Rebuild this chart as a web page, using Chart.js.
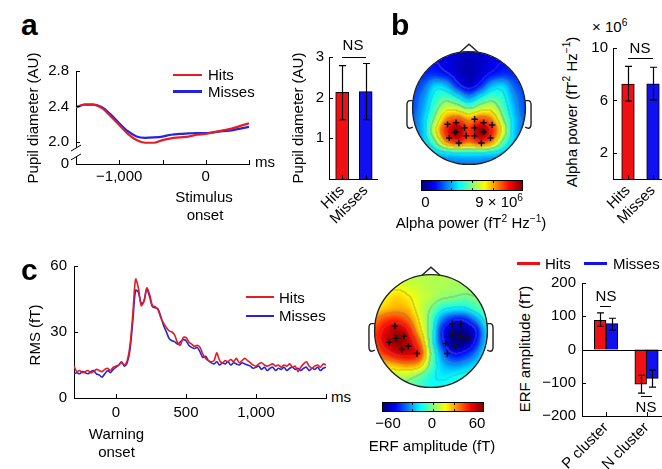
<!DOCTYPE html>
<html>
<head>
<meta charset="utf-8">
<script src="https://cdn.jsdelivr.net/npm/chart.js@4.4.1/dist/chart.umd.min.js"></script>
<style>
body { margin: 0; width: 662px; height: 469px; overflow: hidden; background: #fff; position: relative;
       font-family: 'Liberation Sans', Arial, sans-serif; }
canvas, .t, .seg, .cbar { position: absolute; }
.t { white-space: nowrap; line-height: 1; color: #000; }
.t sup { font-size: 0.68em; vertical-align: 0.6em; line-height: 0; }
.cbar { border: 1px solid #000; box-sizing: border-box; }
</style>
</head>
<body>
<script>
// ---- panel a: pupil diameter ----
const pupilTime = [-1500, -1400, -1300, -1200, -1100, -1000, -900, -800, -700, -600, -500,
                   -400, -300, -200, -100, 0, 100, 200, 300, 400, 500];
const pupilHits = [2.39, 2.42, 2.42, 2.38, 2.29, 2.19, 2.09, 2.02, 1.99, 1.99, 2.02,
                   2.04, 2.05, 2.06, 2.08, 2.09, 2.11, 2.13, 2.15, 2.18, 2.21];
const pupilMisses = [2.39, 2.42, 2.42, 2.39, 2.31, 2.21, 2.12, 2.06, 2.045, 2.05, 2.06,
                     2.08, 2.09, 2.095, 2.10, 2.10, 2.11, 2.12, 2.13, 2.15, 2.17];

const condLabels = ['Hits', 'Misses'];
const pupilBarMean = [2.13, 2.15];
const pupilBarLow = [1.46, 1.46];
const pupilBarHigh = [2.79, 2.84];

// ---- panel b: alpha power (x 10^6) ----
const alphaBarMean = [7.25, 7.27];
const alphaBarLow = [5.94, 6.02];
const alphaBarHigh = [8.6, 8.53];

// scalp map sampled on a grid, x = -1..1 (columns), y = 1..-1 (rows), units of 9 x 10^6
const alphaMap = [
  [.12, .12, .12, .10, .08, .06, .08, .10, .12, .12, .12],
  [.14, .14, .13, .10, .07, .05, .07, .10, .13, .14, .14],
  [.16, .16, .17, .14, .08, .05, .08, .14, .17, .16, .16],
  [.17, .22, .33, .30, .16, .08, .16, .30, .33, .22, .17],
  [.19, .27, .40, .44, .36, .26, .36, .44, .40, .27, .19],
  [.20, .30, .45, .58, .56, .48, .56, .58, .45, .30, .20],
  [.22, .33, .52, .74, .80, .72, .80, .74, .52, .33, .22],
  [.24, .33, .60, .86, .97, .83, .97, .86, .60, .33, .24],
  [.24, .32, .48, .74, .84, .76, .84, .74, .48, .32, .24],
  [.20, .26, .32, .36, .38, .38, .38, .36, .32, .26, .20],
  [.20, .21, .22, .23, .24, .24, .24, .23, .22, .21, .20]
];
const alphaSensX = [-0.38, -0.23, -0.08, -0.24, -0.35, -0.05, -0.18, 0.10, 0.26, 0.41, 0.10, 0.10, 0.26, 0.38, 0.22];
const alphaSensY = [-0.29, -0.26, -0.35, -0.43, -0.53, -0.49, -0.62, -0.20, -0.26, -0.30, -0.35, -0.49, -0.42, -0.53, -0.62];
const alphaPeakX = [-0.24, 0.26];
const alphaPeakY = [-0.43, -0.42];

// ---- panel c: ERF ----
const rmsTime = [];
for (let t = -300; t <= 1500; t += 20) rmsTime.push(t);
const rmsHits = [14.5, 12, 12.5, 11.5, 12, 12.5, 11.5, 12, 13, 12.5, 12, 13, 13.5, 12.5, 14, 14.5,
  15, 16, 15, 17, 24, 38, 54, 50, 42, 44, 50, 47, 42, 41.5, 40, 36.5, 34, 32, 30.5, 30, 28.5, 25, 24,
  27.5, 27.5, 25.5, 24.5, 23.5, 24, 23, 20, 18, 17, 16.5, 17, 20.5, 17, 16, 17, 16.5, 17.5, 16.5, 18,
  16, 17, 18, 17, 16, 15, 14.5, 15.5, 16, 15, 14.5, 15, 15.5, 14.5, 15, 14, 15, 14.5, 15.5, 14, 14.5,
  12, 14, 15.5, 16.5, 14.5, 13.5, 14.5, 15, 14, 15.5, 15];
const rmsMisses = [11, 11.5, 11, 12, 11.5, 11, 12, 12.5, 11, 10.5, 9.5, 11, 12.5, 11.5, 13, 14,
  15, 16.5, 14.5, 16, 22, 35, 49, 48, 43, 44, 49.5, 46, 41.5, 41, 40.5, 37, 33, 30, 27, 26, 25.5, 24.5,
  25.5, 26.5, 26, 24, 23, 22.5, 23, 21, 18.5, 19, 17, 16, 15.5, 16.5, 15, 16, 15.5, 16.5, 15, 16, 15.5,
  15, 16, 15.5, 15, 14.5, 13.5, 14, 14.5, 13, 14, 12.5, 13.5, 14, 12.5, 13.5, 13, 14, 12.5, 13.5, 14,
  13, 13.5, 12.5, 13.5, 14, 12.5, 13.5, 13, 14, 12.5, 13.5, 14];

const clusterLabels = ['P cluster', 'N cluster'];
const erfHitsMean = [88, -104];
const erfHitsLow = [70, -131];
const erfHitsHigh = [110, -78];
const erfMissesMean = [78, -87];
const erfMissesLow = [58, -113];
const erfMissesHigh = [94, -62];

// scalp map in fT, same grid layout as alphaMap
const erfMap = [
  [5, 5, 6, 6, 6, 6, 6, 5, 5, 5, 5],
  [8, 10, 12, 10, 8, 6, 5, 4, 4, 4, 4],
  [12, 16, 20, 16, 10, 6, 2, 0, -2, 0, 2],
  [18, 22, 25, 22, 10, 0, -12, -16, -16, -8, -2],
  [30, 38, 40, 32, 14, -5, -30, -42, -42, -28, -10],
  [38, 48, 55, 45, 20, -6, -42, -58, -58, -45, -18],
  [38, 50, 58, 52, 32, -6, -40, -58, -58, -42, -18],
  [30, 40, 48, 50, 40, 0, -30, -45, -42, -30, -12],
  [15, 20, 25, 28, 22, -4, -22, -28, -25, -18, -10],
  [5, 6, 6, 5, -2, -12, -17, -15, -12, -9, -7],
  [0, 0, -2, -4, -8, -13, -13, -11, -9, -7, -5]
];
const erfSensX = [-0.64, -0.74, -0.62, -0.48, -0.40, -0.52, -0.25, 0.38, 0.53, 0.38, 0.52, 0.65, 0.26, 0.43, 0.29];
const erfSensY = [0.09, -0.2, -0.13, -0.09, -0.27, -0.33, -0.40, 0.13, 0.13, -0.05, -0.09, -0.13, -0.22, -0.27, -0.40];

const RED = 'rgb(240,16,20)';
const BLUE = 'rgb(16,16,240)';
const LRED = 'rgb(228,28,36)';
const LBLUE = 'rgb(34,34,226)';

Chart.defaults.font.family = "'Liberation Sans', Arial, sans-serif";
Chart.defaults.font.size = 15;
Chart.defaults.color = '#000';
Chart.defaults.animation = false;
Chart.defaults.plugins.legend.display = false;
Chart.defaults.plugins.tooltip.enabled = false;

// inward tick marks (matlab style), zero line and axis break
Chart.register({
  id: 'inTicks',
  afterDraw(chart, args, o) {
    const ctx = chart.ctx, a = chart.chartArea, len = o.len || 4;
    ctx.save();
    ctx.strokeStyle = '#000';
    ctx.lineWidth = 1;
    (o.x || []).forEach(v => {
      const px = Math.round(chart.scales.x.getPixelForValue(v)) + 0.5;
      ctx.beginPath(); ctx.moveTo(px, a.bottom); ctx.lineTo(px, a.bottom - len); ctx.stroke();
    });
    (o.y || []).forEach(v => {
      const py = Math.round(chart.scales.y.getPixelForValue(v)) + 0.5;
      ctx.beginPath(); ctx.moveTo(a.left, py); ctx.lineTo(a.left + len, py); ctx.stroke();
    });
    if (o.zero) {
      const py = Math.round(chart.scales.y.getPixelForValue(0)) + 0.5;
      ctx.beginPath(); ctx.moveTo(a.left, py); ctx.lineTo(a.right, py); ctx.stroke();
    }
    if (o.brk) {
      const y1 = chart.scales.y.getPixelForValue(o.brk[1]), y2 = chart.scales.y.getPixelForValue(o.brk[0]);
      ctx.fillStyle = '#fff';
      ctx.fillRect(a.left - 2, y1, 4, y2 - y1);
      [y1, y2].forEach(y => {
        ctx.beginPath(); ctx.moveTo(a.left - 5, y + 3); ctx.lineTo(a.left + 5, y - 3); ctx.stroke();
      });
    }
    ctx.restore();
  }
});

// error bars from dataset.errLow / errHigh
Chart.register({
  id: 'errBars',
  afterDatasetsDraw(chart) {
    const ctx = chart.ctx, ys = chart.scales.y;
    ctx.save();
    ctx.strokeStyle = '#000';
    ctx.lineWidth = 1.2;
    chart.data.datasets.forEach((ds, i) => {
      if (!ds.errLow) return;
      chart.getDatasetMeta(i).data.forEach((bar, j) => {
        const x = Math.round(bar.x) + 0.5;
        const y1 = ys.getPixelForValue(ds.errLow[j]), y2 = ys.getPixelForValue(ds.errHigh[j]);
        ctx.beginPath();
        ctx.moveTo(x, y1); ctx.lineTo(x, y2);
        ctx.moveTo(x - 3.5, y1); ctx.lineTo(x + 3.5, y1);
        ctx.moveTo(x - 3.5, y2); ctx.lineTo(x + 3.5, y2);
        ctx.stroke();
      });
    });
    ctx.restore();
  }
});

function jet(t) {
  t = Math.max(0, Math.min(1, t));
  const f = v => Math.round(255 * Math.max(0, Math.min(1, v)));
  return [f(1.5 - Math.abs(4 * t - 3)), f(1.5 - Math.abs(4 * t - 2)), f(1.5 - Math.abs(4 * t - 1))];
}

// smooth (catmull-rom) reading of a map grid at head coords x, y
function mapValue(grid, x, y) {
  const nr = grid.length - 1, nc = grid[0].length - 1;
  const gx = (x + 1) / 2 * nc, gy = (1 - y) / 2 * nr;
  const ix = Math.floor(gx), iy = Math.floor(gy), fx = gx - ix, fy = gy - iy;
  const at = (r, c) => grid[Math.max(0, Math.min(nr, r))][Math.max(0, Math.min(nc, c))];
  const cr = (p0, p1, p2, p3, t) => p1 + 0.5 * t * (p2 - p0 + t * (2 * p0 - 5 * p1 + 4 * p2 - p3 + t * (3 * (p1 - p2) + p3 - p0)));
  const rows = [-1, 0, 1, 2].map(d => cr(at(iy + d, ix - 1), at(iy + d, ix), at(iy + d, ix + 1), at(iy + d, ix + 2), fx));
  return cr(rows[0], rows[1], rows[2], rows[3], fy);
}
const alphaAt = (x, y) => mapValue(alphaMap, x, y);
const erfAt = (x, y) => (mapValue(erfMap, x, y) + 60) / 120;

// head map drawn into the chart area, through the chart scales
function topoPlugin(valueAt, levels) {
  return {
    id: 'topo',
    beforeDatasetsDraw(chart) {
      const ctx = chart.ctx, a = chart.chartArea, xs = chart.scales.x, ys = chart.scales.y;
      const w = Math.round(a.right - a.left), h = Math.round(a.bottom - a.top);
      const off = document.createElement('canvas');
      off.width = w; off.height = h;
      const octx = off.getContext('2d');
      const img = octx.createImageData(w, h);
      const lev = new Int16Array(w * h).fill(-1);
      const tv = new Float32Array(w * h);
      for (let j = 0; j < h; j++) {
        for (let i = 0; i < w; i++) {
          const x = xs.getValueForPixel(a.left + i + 0.5), y = ys.getValueForPixel(a.top + j + 0.5);
          if (x * x + y * y > 1) continue;
          const t = valueAt(x, y);
          tv[j * w + i] = t;
          lev[j * w + i] = Math.floor(Math.max(0, Math.min(0.999, t)) * levels);
        }
      }
      for (let j = 0; j < h; j++) {
        for (let i = 0; i < w; i++) {
          const k = j * w + i;
          if (lev[k] < 0) continue;
          let [r, g, b] = jet(tv[k]);
          const right = i + 1 < w ? lev[k + 1] : -1, down = j + 1 < h ? lev[k + w] : -1;
          if ((right >= 0 && right !== lev[k]) || (down >= 0 && down !== lev[k])) {
            r = r * 0.5 + 60; g = g * 0.5 + 60; b = b * 0.5 + 60;
          }
          img.data[k * 4] = r; img.data[k * 4 + 1] = g; img.data[k * 4 + 2] = b; img.data[k * 4 + 3] = 255;
        }
      }
      octx.putImageData(img, 0, 0);
      ctx.drawImage(off, a.left, a.top);

      const px = v => xs.getPixelForValue(v), py = v => ys.getPixelForValue(v);
      const cx = px(0), cy = py(0), r = px(1) - cx;
      ctx.save();
      ctx.strokeStyle = '#222';
      ctx.lineWidth = 1.4;
      ctx.beginPath(); ctx.arc(cx, cy, r, 0, Math.PI * 2); ctx.stroke();
      ctx.beginPath();
      ctx.moveTo(px(-0.16), py(0.987)); ctx.lineTo(px(0), py(1.13)); ctx.lineTo(px(0.16), py(0.987));
      ctx.stroke();
      [-1, 1].forEach(s => {
        ctx.beginPath();
        ctx.moveTo(px(s * 0.995), py(0.13));
        ctx.lineTo(px(s * 1.05), py(0.13));
        ctx.quadraticCurveTo(px(s * 1.1), py(0.13), px(s * 1.1), py(0.05));
        ctx.lineTo(px(s * 1.1), py(-0.28));
        ctx.quadraticCurveTo(px(s * 1.1), py(-0.36), px(s * 1.05), py(-0.36));
        ctx.lineTo(px(s * 0.995), py(-0.34));
        ctx.stroke();
      });
      ctx.restore();
    }
  };
}

function boxChart(area, pad, config) {
  const [l, t, r, b] = area;
  const c = document.createElement('canvas');
  const w = r - l + pad[0] + pad[2], h = b - t + pad[1] + pad[3];
  c.width = w; c.height = h;
  Object.assign(c.style, { left: (l - pad[0]) + 'px', top: (t - pad[1]) + 'px', width: w + 'px', height: h + 'px' });
  document.body.appendChild(c);
  const o = config.options;
  o.responsive = false;
  o.layout = { padding: { left: 0, top: pad[1], right: pad[2], bottom: 0 } };
  o.scales.x.afterFit = s => { s.height = pad[3]; s.paddingLeft = 0; s.paddingRight = 0; };
  o.scales.y.afterFit = s => { s.width = pad[0]; s.paddingTop = 0; s.paddingBottom = 0; };
  return new Chart(c, config);
}

function axis(min, max, ticks, fmt, padding, extra) {
  return Object.assign({
    type: 'linear', min, max, offset: false,
    grid: { display: false, drawTicks: false, offset: false },
    border: { display: true, color: '#000', width: 1 },
    afterBuildTicks: s => { s.ticks = ticks.map(v => ({ value: v })); },
    ticks: { padding, autoSkip: false, maxRotation: 0, callback: fmt }
  }, extra || {});
}
const minus = v => (v < 0 ? '\u2212' : '') + Math.abs(v).toLocaleString('en-US');

// a: pupil time course
boxChart([76, 71, 249, 164], [60, 8, 4, 25], {
  type: 'line',
  data: {
    datasets: [
      { data: pupilTime.map((t, i) => ({ x: t, y: pupilHits[i] })), borderColor: LRED },
      { data: pupilTime.map((t, i) => ({ x: t, y: pupilMisses[i] })), borderColor: LBLUE }
    ]
  },
  options: {
    elements: { point: { radius: 0 }, line: { borderWidth: 2.2, cubicInterpolationMode: 'monotone' } },
    scales: {
      x: axis(-1500, 500, [-1000, 0], v => minus(v), 4),
      y: axis(1.75, 2.8, [1.75, 2.0, 2.4, 2.8], v => v === 1.75 ? '0' : v.toFixed(1), 7)
    },
    plugins: { inTicks: { x: [-1000, -500, 0, 500], y: [2.0, 2.4, 2.8], brk: [1.83, 1.93] } }
  }
});

function barConfig(datasets, xMin, xMax, labels, y, yTicks, zero) {
  return {
    type: 'bar',
    data: { datasets },
    options: {
      scales: {
        x: axis(xMin, xMax, [0, 1], v => labels[v], 3,
          { ticks: { padding: 3, autoSkip: false, minRotation: 45, maxRotation: 45, callback: v => labels[v] } }),
        y: y
      },
      plugins: { inTicks: { x: [0, 1], y: yTicks, zero } }
    }
  };
}

// a: pupil bars
boxChart([329, 57, 377, 179], [30, 6, 6, 48], barConfig([{
  data: pupilBarMean.map((v, i) => ({ x: i, y: v })),
  backgroundColor: [RED, BLUE], borderColor: '#000', borderWidth: 1, barThickness: 13,
  errLow: pupilBarLow, errHigh: pupilBarHigh
}], -0.56, 1.48, condLabels, axis(0, 3, [1, 2, 3], v => String(v), 5), [1, 2, 3]));

// b: alpha bars
boxChart([613, 48, 666, 179], [30, 6, 0, 45], barConfig([{
  data: alphaBarMean.map((v, i) => ({ x: i, y: v })),
  backgroundColor: [RED, BLUE], borderColor: '#000', borderWidth: 1, barThickness: 12.6,
  errLow: alphaBarLow, errHigh: alphaBarHigh
}], -0.6, 1.52, condLabels, axis(0, 10, [2, 6, 10], v => String(v), 5), [2, 6, 10]));

// c: ERF bars
boxChart([582, 283, 666, 416], [40, 6, 0, 53], barConfig([
  { data: erfHitsMean.map((v, i) => ({ x: i, y: v })), backgroundColor: RED, borderColor: '#000',
    borderWidth: 1, barThickness: 11.7, errLow: erfHitsLow, errHigh: erfHitsHigh },
  { data: erfMissesMean.map((v, i) => ({ x: i, y: v })), backgroundColor: BLUE, borderColor: '#000',
    borderWidth: 1, barThickness: 11.7, errLow: erfMissesLow, errHigh: erfMissesHigh }
], -0.593, 1.48, clusterLabels, axis(-200, 200, [-200, -100, 0, 100, 200], minus, 6),
  [-200, -100, 0, 100, 200], true));

// c: RMS time course
boxChart([74, 266, 326, 398], [50, 6, 4, 30], {
  type: 'line',
  data: {
    datasets: [
      { data: rmsTime.map((t, i) => ({ x: t, y: rmsHits[i] })), borderColor: LRED },
      { data: rmsTime.map((t, i) => ({ x: t, y: rmsMisses[i] })), borderColor: LBLUE }
    ]
  },
  options: {
    elements: { point: { radius: 0 }, line: { borderWidth: 1.6, tension: 0.3 } },
    scales: {
      x: axis(-300, 1500, [0, 500, 1000], v => minus(v), 6),
      y: axis(0, 60, [0, 30, 60], v => String(v), 7)
    },
    plugins: { inTicks: { x: [0, 500, 1000, 1500], y: [30, 60] } }
  }
});

function topoChart(area, valueAt, sensX, sensY, peakX, peakY) {
  const datasets = [{
    data: sensX.map((x, i) => ({ x, y: sensY[i] })),
    pointStyle: 'cross', pointRadius: 3.2, borderColor: '#111', borderWidth: 1.5
  }];
  if (peakX) datasets.push({
    data: peakX.map((x, i) => ({ x, y: peakY[i] })),
    pointStyle: 'circle', pointRadius: 2.2, backgroundColor: '#111', borderWidth: 0
  });
  return boxChart(area, [0, 0, 0, 0], {
    type: 'scatter',
    data: { datasets },
    options: {
      scales: {
        x: { type: 'linear', min: -1.25, max: 1.25, display: false },
        y: { type: 'linear', min: -1.25, max: 1.25, display: false }
      }
    },
    plugins: [topoPlugin(valueAt, 8)]
  });
}
topoChart([393, 32, 545, 184], alphaAt, alphaSensX, alphaSensY, alphaPeakX, alphaPeakY);
topoChart([355, 255, 507, 407], erfAt, erfSensX, erfSensY);

// ---- text, legends, colour bars ----
function txt(html, x, base, align, size, bold) {
  const d = document.createElement('div');
  d.className = 't';
  const fs = size || 15;
  d.style.fontSize = fs + 'px';
  if (bold) d.style.fontWeight = 'bold';
  d.innerHTML = html;
  d.style.left = x + 'px';
  d.style.top = (base - 0.847 * fs) + 'px';
  d.style.transform = 'translateX(' + ({ left: '0', center: '-50%', right: '-100%' })[align || 'left'] + ')';
  document.body.appendChild(d);
}
function vtxt(html, cx, cy) {
  const d = document.createElement('div');
  d.className = 't';
  d.style.fontSize = '15px';
  d.innerHTML = html;
  d.style.left = cx + 'px';
  d.style.top = cy + 'px';
  d.style.transform = 'translate(-50%,-50%) rotate(-90deg)';
  document.body.appendChild(d);
}
function seg(x1, y, x2, color, w) {
  const d = document.createElement('div');
  d.className = 'seg';
  Object.assign(d.style, { left: x1 + 'px', top: (y - w / 2) + 'px', width: (x2 - x1) + 'px', height: w + 'px', background: color });
  document.body.appendChild(d);
}
function colorBar(x1, y1, x2, y2) {
  const stops = [];
  for (let i = 0; i <= 16; i++) stops.push('rgb(' + jet(i / 16).join(',') + ') ' + (i / 16 * 100) + '%');
  const d = document.createElement('div');
  d.className = 'cbar';
  Object.assign(d.style, { left: x1 + 'px', top: y1 + 'px', width: (x2 - x1) + 'px', height: (y2 - y1) + 'px',
    background: 'linear-gradient(to right,' + stops.join(',') + ')' });
  document.body.appendChild(d);
  [0.29, 0.5, 0.71].forEach(f => {
    const x = x1 + f * (x2 - x1);
    [y1, y2 - 3].forEach(y => {
      const t = document.createElement('div');
      t.className = 'seg';
      Object.assign(t.style, { left: x + 'px', top: y + 'px', width: '1px', height: '3px', background: '#000' });
      document.body.appendChild(t);
    });
  });
}

txt('a', 21, 35, 'left', 30, true);
txt('b', 391, 35, 'left', 30, true);
txt('c', 21, 280, 'left', 30, true);

// a
vtxt('Pupil diameter (AU)', 32, 118);
seg(173, 75, 202, LRED, 2.2); txt('Hits', 208, 80);
seg(173, 91.5, 202, LBLUE, 2.2); txt('Misses', 208, 96.5);
txt('ms', 255, 167);
txt('Stimulus', 204, 202, 'center');
txt('onset', 205, 220, 'center');
vtxt('Pupil diameter (AU)', 297, 118);
txt('NS', 353, 50, 'center');
seg(342, 57, 366, '#000', 1);

// b
colorBar(421, 180, 523, 191);
txt('0', 425.5, 206.5, 'center');
txt('9 \u00d7 10<sup>6</sup>', 523, 206.5, 'right');
txt('Alpha power (fT<sup>2</sup> Hz<sup>\u22121</sup>)', 471, 228, 'center');
vtxt('Alpha power (fT<sup>2</sup> Hz<sup>\u22121</sup>)', 571, 112);
txt('\u00d7 10<sup>6</sup>', 592, 32);
txt('NS', 640, 52.5, 'center');
seg(628, 58.5, 653, '#000', 1);

// c
vtxt('RMS (fT)', 34, 335);
seg(246, 297, 274, LRED, 2.2); txt('Hits', 279, 302.5);
seg(246, 316, 274, LBLUE, 2.2); txt('Misses', 279, 321);
txt('ms', 331, 401.5);
txt('Warning', 116.5, 439, 'center');
txt('onset', 116.5, 456.5, 'center');
colorBar(382, 402, 484, 412);
txt('\u221260', 388, 428, 'center');
txt('0', 432, 428, 'center');
txt('60', 477, 428, 'center');
txt('ERF amplitude (fT)', 432, 450.5, 'center');
vtxt('ERF amplitude (fT)', 523.5, 349);
seg(517, 263.5, 540, RED, 2.2); txt('Hits', 545, 268.5);
seg(584, 263.5, 607, BLUE, 2.2); txt('Misses', 613, 268.5);
txt('NS', 606, 300.5, 'center');
seg(600, 306.5, 611, '#000', 1);
txt('NS', 646, 412, 'center');
seg(641, 396, 652, '#000', 1);
</script>
</body>
</html>
